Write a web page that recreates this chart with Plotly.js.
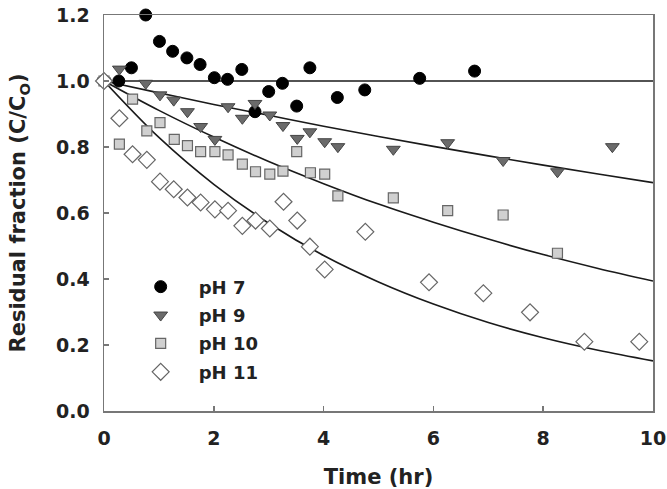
<!DOCTYPE html>
<html>
<head>
<meta charset="utf-8">
<script src="https://cdn.plot.ly/plotly-3.0.1.min.js"></script>
<style>html,body{margin:0;padding:0;background:#fff;}#chart{width:667px;height:489px;}</style>
</head>
<body>
<div id="chart"></div>
<script>
// Measured data (time in hr, residual fraction C/Co)
const ph7_t = [0, 0.27, 0.50, 0.76, 1.01, 1.25, 1.51, 1.75, 2.01, 2.25, 2.51, 2.75, 3.00, 3.25, 3.51, 3.75, 4.25, 4.75, 5.75, 6.75];
const ph7_y = [1.00, 1.00, 1.04, 1.20, 1.12, 1.09, 1.07, 1.05, 1.01, 1.005, 1.035, 0.907, 0.968, 0.993, 0.924, 1.04, 0.95, 0.973, 1.008, 1.03];

const ph9_t = [0, 0.28, 0.76, 1.02, 1.27, 1.52, 1.76, 2.02, 2.26, 2.52, 2.75, 3.02, 3.26, 3.52, 3.75, 4.02, 4.26, 5.27, 6.26, 7.27, 8.26, 9.26];
const ph9_y = [1.00, 1.036, 0.993, 0.958, 0.942, 0.907, 0.862, 0.823, 0.922, 0.887, 0.932, 0.897, 0.865, 0.826, 0.846, 0.816, 0.801, 0.793, 0.813, 0.759, 0.725, 0.801];

const ph10_t = [0, 0.28, 0.52, 0.78, 1.02, 1.28, 1.52, 1.76, 2.02, 2.26, 2.52, 2.76, 3.02, 3.26, 3.51, 3.76, 4.02, 4.26, 5.27, 6.26, 7.27, 8.26];
const ph10_y = [1.00, 0.809, 0.945, 0.849, 0.874, 0.823, 0.804, 0.786, 0.786, 0.776, 0.748, 0.725, 0.718, 0.727, 0.786, 0.722, 0.718, 0.652, 0.646, 0.607, 0.594, 0.478];

const ph11_t = [0, 0.28, 0.52, 0.78, 1.02, 1.27, 1.52, 1.76, 2.02, 2.26, 2.52, 2.76, 3.02, 3.27, 3.52, 3.75, 4.02, 4.76, 5.92, 6.91, 7.76, 8.75, 9.75];
const ph11_y = [1.00, 0.887, 0.778, 0.761, 0.695, 0.672, 0.647, 0.632, 0.611, 0.607, 0.561, 0.577, 0.553, 0.634, 0.577, 0.498, 0.429, 0.543, 0.39, 0.357, 0.299, 0.21, 0.21];

// Fitted curves at whole hours
const fit_t = [0, 1, 2, 3, 4, 5, 6, 7, 8, 9, 10];
const fit7_y = [1.00, 1.00, 1.00, 1.00, 1.00, 1.00, 1.00, 1.00, 1.00, 1.00, 1.00];
const fit9_y = [1.00, 0.964, 0.929, 0.896, 0.863, 0.832, 0.802, 0.773, 0.745, 0.718, 0.692];
const fit10_y = [1.00, 0.911, 0.830, 0.756, 0.689, 0.627, 0.572, 0.521, 0.474, 0.432, 0.394];
const fit11_y = [1.00, 0.829, 0.687, 0.569, 0.471, 0.391, 0.324, 0.268, 0.222, 0.184, 0.152];

const xTicks = [0, 2, 4, 6, 8, 10];
const yTicks = [0, 0.2, 0.4, 0.6, 0.8, 1.0, 1.2];

const FAM = 'DejaVu Sans, Liberation Sans, Arial, sans-serif';
const lineStyle = {color: '#1a1a1a', width: 1.6, shape: 'spline'};
function fit(y) {
  return {x: fit_t, y: y, mode: 'lines', line: lineStyle, showlegend: false, hoverinfo: 'skip', cliponaxis: false};
}

const traces = [
  fit(fit7_y), fit(fit9_y), fit(fit10_y), fit(fit11_y),
  {x: ph7_t, y: ph7_y, mode: 'markers', name: 'pH 7', legendgroup: 'a', cliponaxis: false,
   marker: {symbol: 'circle', size: 12, color: '#000', line: {color: '#000', width: 1}}},
  {x: ph9_t, y: ph9_y, mode: 'markers', name: 'pH 9', legendgroup: 'b', cliponaxis: false,
   marker: {symbol: 'triangle-down', size: 12, color: '#6b6b6b', line: {color: '#444', width: 1}}},
  {x: ph10_t, y: ph10_y, mode: 'markers', name: 'pH 10', legendgroup: 'c', cliponaxis: false,
   marker: {symbol: 'square', size: 10, color: '#d0d0d0', line: {color: '#666', width: 1.2}}},
  {x: ph11_t, y: ph11_y, mode: 'markers', name: 'pH 11', legendgroup: 'd', cliponaxis: false,
   marker: {symbol: 'diamond', size: 13, color: '#fff', line: {color: '#666', width: 1.2}}}
];

const tickFont = {family: FAM, size: 19, color: '#222', weight: 'bold'};
const titleFont = {family: FAM, size: 21, color: '#222', weight: 'bold'};

const layout = {
  width: 667, height: 489,
  margin: {l: 104, r: 14, t: 15, b: 78},
  paper_bgcolor: '#fff', plot_bgcolor: '#fff',
  font: {family: FAM, color: '#222'},
  showlegend: true,
  legend: {
    x: 0.034, y: 0.36, xanchor: 'left', yanchor: 'top',
    bgcolor: 'rgba(0,0,0,0)', borderwidth: 0,
    font: {family: FAM, size: 18, color: '#222', weight: 'bold'},
    tracegroupgap: 2, itemwidth: 66
  },
  xaxis: {
    range: [0, 10], tickvals: xTicks, ticktext: xTicks.map(String),
    ticks: 'inside', ticklen: 5, tickcolor: '#777', tickwidth: 1.5,
    showline: true, linecolor: '#777', linewidth: 1.5, mirror: true,
    showgrid: false, zeroline: false,
    tickfont: tickFont, ticklabelstandoff: 10,
    title: {text: 'Time (hr)', font: titleFont, standoff: 37}
  },
  yaxis: {
    range: [0, 1.2], tickvals: yTicks, ticktext: yTicks.map(v => v.toFixed(1)),
    ticks: 'inside', ticklen: 5, tickcolor: '#777', tickwidth: 1.5,
    showline: true, linecolor: '#777', linewidth: 1.5, mirror: true,
    showgrid: false, zeroline: false,
    tickfont: tickFont, ticklabelstandoff: 9,
    title: {text: 'Residual fraction (C/C<sub>O</sub>)', font: titleFont, standoff: 24}
  }
};

Plotly.newPlot('chart', traces, layout, {displayModeBar: false, staticPlot: true});
</script>
</body>
</html>
